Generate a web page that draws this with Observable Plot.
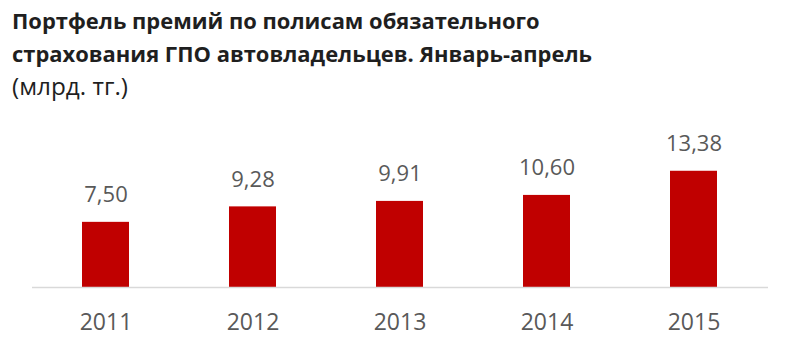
<!DOCTYPE html>
<html>
<head>
<meta charset="utf-8">
<script src="https://cdn.jsdelivr.net/npm/d3@7"></script>
<script src="https://cdn.jsdelivr.net/npm/@observablehq/plot@0.6"></script>
<style>
  html, body { margin: 0; padding: 0; background: #fff; }
  #wrap { width: 800px; height: 355px; overflow: hidden; position: relative; }
  #title { height: 105px; box-sizing: border-box; padding-top: 4px; padding-left: 12px;
           font-family: "Open Sans", sans-serif; font-size: 22px; line-height: 33px; color: #1f1f1f; }
  #title div { white-space: nowrap; transform-origin: 0 0; width: max-content; }
  .b { font-weight: 700; }
  .r { font-weight: 400; font-size: 23px; }
</style>
</head>
<body>
<div id="wrap">
  <div id="title">
    <div class="b" id="t1">Портфель премий по полисам обязательного</div>
    <div class="b" id="t2">страхования ГПО автовладельцев. Январь-апрель</div>
    <div class="r" id="t3">(млрд. тг.)</div>
  </div>
  <div id="chart"></div>
</div>
<script>
const years = ["2011", "2012", "2013", "2014", "2015"];
const values = [7.50, 9.28, 9.91, 10.60, 13.38];
const valueLabels = ["7,50", "9,28", "9,91", "10,60", "13,38"];

const data = years.map((y, i) => ({year: y, value: values[i], label: valueLabels[i]}));

// condense the bold title lines to mimic the narrower original typeface
const t2 = document.getElementById("t2");
const s = 580 / t2.getBoundingClientRect().width;
for (const id of ["t1", "t2"]) {
  document.getElementById(id).style.transform = `scaleX(${s})`;
}
const t3 = document.getElementById("t3");
t3.style.transform = `scaleX(${116 / t3.getBoundingClientRect().width})`;

const chart = Plot.plot({
  width: 800,
  height: 250,
  marginLeft: 32,
  marginRight: 32,
  marginTop: 43,
  marginBottom: 68,
  style: {fontFamily: "Open Sans, sans-serif", color: "#595959", background: "#fff"},
  x: {domain: years, paddingInner: 0.68, paddingOuter: 0.34, label: null},
  y: {domain: [0, 16], axis: null},
  marks: [
    Plot.barY(data, {x: "year", y: "value", fill: "#C00000"}),
    Plot.ruleY([0], {stroke: "#D9D9D9", strokeWidth: 1.5}),
    Plot.text(data, {x: "year", y: "value", text: "label", dy: -27, fontSize: 22, fill: "#595959"}),
    Plot.axisX({tickSize: 0, tickPadding: 26, fontSize: 23, fill: "#595959", label: null})
  ]
});
document.getElementById("chart").appendChild(chart);
</script>
</body>
</html>
